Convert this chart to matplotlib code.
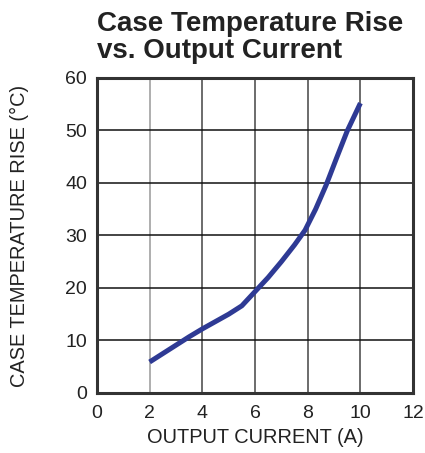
import matplotlib
matplotlib.use("Agg")
import matplotlib.pyplot as plt

current = [2.0, 2.5, 3.0, 3.5, 4.0, 4.5, 5.0, 5.5, 6.0, 6.5, 7.0, 7.5, 7.9, 8.3, 8.7, 9.1, 9.5, 10.0]
temp_rise = [5.9, 7.5, 9.1, 10.7, 12.2, 13.6, 15.0, 16.6, 19.3, 22.0, 25.0, 28.2, 31.0, 35.0, 39.6, 44.8, 49.9, 55.2]
xticks = [0, 2, 4, 6, 8, 10, 12]
yticks = [0, 10, 20, 30, 40, 50, 60]

plt.rcParams['font.family'] = ['Liberation Sans', 'DejaVu Sans']

fig = plt.figure(figsize=(4.25, 4.53), dpi=100)
ax = fig.add_axes([0.228, 0.1325, 0.744, 0.6955])

ax.set_xlim(0, 12)
ax.set_ylim(0, 60)
ax.set_xticks(xticks)
ax.set_yticks(yticks)
ax.tick_params(length=0, labelsize=14, colors='#222222')
ax.tick_params(axis='x', pad=9)
ax.tick_params(axis='y', pad=7)

for x in xticks[1:-1]:
    ax.axvline(x, color='#999999' if x == 2 else '#444444', lw=1.1, zorder=1)
for y in yticks[1:-1]:
    ax.axhline(y, color='#111111', lw=1.1, zorder=1)

for s in ax.spines.values():
    s.set_linewidth(2.2)
    s.set_color('#333333')

ax.plot(current, temp_rise, color='#2e3a94', lw=3.6, solid_capstyle='butt',
        solid_joinstyle='round', zorder=3)

ax.set_xlabel('OUTPUT CURRENT (A)', fontsize=14.4, color='#222222', labelpad=4)
ax.set_ylabel('CASE TEMPERATURE RISE (°C)', fontsize=14.4, color='#222222')
ax.yaxis.set_label_coords(-0.215, 0.5)

fig.text(0.228, 0.975, 'Case Temperature Rise\nvs. Output Current', fontsize=20,
         fontweight='bold', color='#222222', ha='left', va='top', linespacing=1.05)

fig.savefig('out.png', dpi=100)
